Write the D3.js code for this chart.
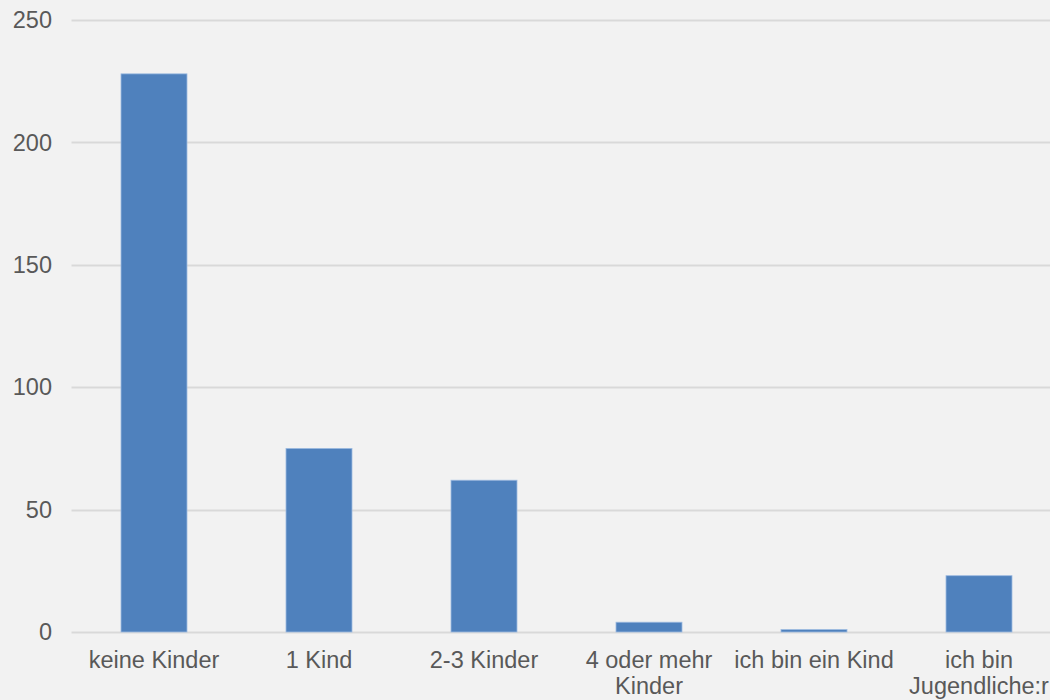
<!DOCTYPE html>
<html>
<head>
<meta charset="utf-8">
<script src="https://cdn.jsdelivr.net/npm/d3@7"></script>
<style>
  body { margin: 0; background: #f2f2f2; }
  svg { display: block; font-family: "Liberation Sans", Arial, sans-serif; }
</style>
</head>
<body>
<svg width="1050" height="700"></svg>
<script>
// data
var categories = ["keine Kinder", "1 Kind", "2-3 Kinder", "4 oder mehr Kinder", "ich bin ein Kind", "ich bin Jugendliche:r"];
var values = [228, 75, 62, 4, 1, 23];
var yTicks = [0, 50, 100, 150, 200, 250];

var svg = d3.select("svg"),
    margin = {top: 20, left: 71.5},
    plotRight = 1061.5,
    plotBottom = 632;

svg.append("rect").attr("width", 1050).attr("height", 700).attr("fill", "#f2f2f2");

var x = d3.scaleBand()
    .domain(categories)
    .range([margin.left, plotRight])
    .paddingInner(0.6)
    .paddingOuter(0.3);

var y = d3.scaleLinear().domain([0, 250]).range([plotBottom, margin.top]);

// gridlines
svg.append("g").selectAll("line")
    .data(yTicks)
    .enter().append("line")
    .attr("x1", margin.left)
    .attr("x2", plotRight)
    .attr("y1", function(d) { return Math.round(y(d)) + 0.5; })
    .attr("y2", function(d) { return Math.round(y(d)) + 0.5; })
    .attr("stroke", "#d9d9d9")
    .attr("stroke-width", 2);

// y labels
svg.append("g").selectAll("text")
    .data(yTicks)
    .enter().append("text")
    .attr("x", 52)
    .attr("y", function(d) { return y(d); })
    .attr("dy", "0.35em")
    .attr("text-anchor", "end")
    .attr("fill", "#595959")
    .style("font-size", "23.5px")
    .text(function(d) { return d; });

// bars
svg.append("g").selectAll("rect")
    .data(values)
    .enter().append("rect")
    .attr("x", function(d, i) { return x(categories[i]); })
    .attr("width", x.bandwidth())
    .attr("y", function(d) { return y(d); })
    .attr("height", function(d) { return plotBottom - y(d); })
    .attr("fill", "#4f81bd")
    .attr("stroke", "#9dbbe0")
    .attr("stroke-width", 0.8);

// x labels, wrapped to the category width
var xl = svg.append("g").selectAll("text")
    .data(categories)
    .enter().append("text")
    .attr("text-anchor", "middle")
    .attr("fill", "#595959")
    .style("font-size", "23.5px")
    .attr("transform", function(d) { return "translate(" + (x(d) + x.bandwidth() / 2) + ",668)"; });

xl.each(function(d) {
    var t = d3.select(this), words = d.split(" "), lines = [], cur = "";
    var tmp = t.append("tspan");
    words.forEach(function(w) {
        var test = cur ? cur + " " + w : w;
        tmp.text(test);
        if (tmp.node().getComputedTextLength() > x.step() - 4 && cur) {
            lines.push(cur);
            cur = w;
        } else cur = test;
    });
    lines.push(cur);
    tmp.remove();
    lines.forEach(function(l, i) {
        t.append("tspan").attr("x", 0).attr("y", i * 26).text(l);
    });
});
</script>
</body>
</html>
